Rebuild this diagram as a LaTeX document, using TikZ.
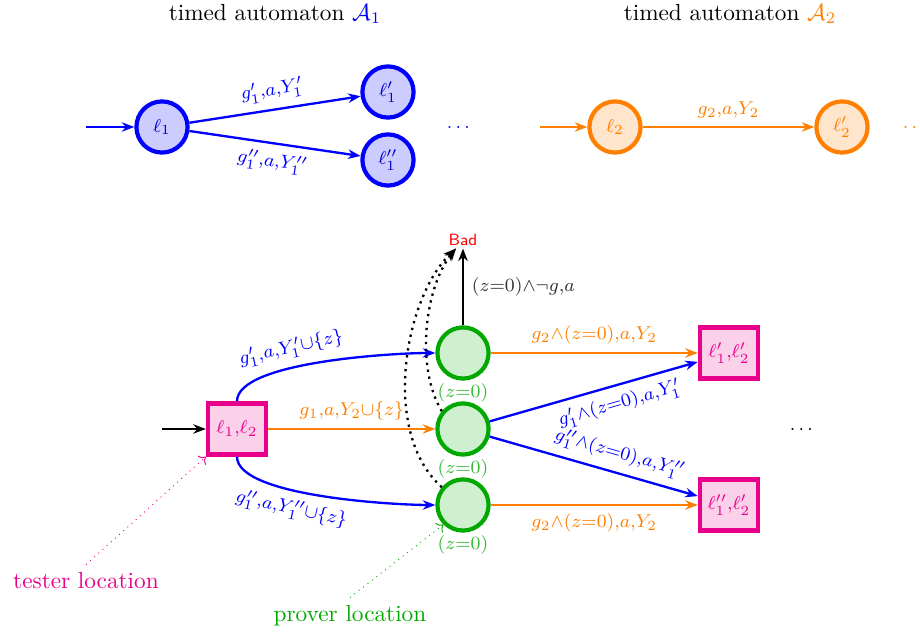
\documentclass[tikz,border=0pt]{standalone}
\usepackage{amsmath, amssymb}
\usepackage{xcolor}
\usetikzlibrary{arrows.meta, positioning}
\definecolor{tcol}{RGB}{232,0,140}
\definecolor{pcol}{RGB}{0,168,0}
\definecolor{pfill}{RGB}{206,240,206}

\begin{document}
\begin{tikzpicture}[
  x=0.43pt, y=0.43pt, font=\footnotesize,
  aloc/.style={circle, draw=blue, line width=1.8pt, fill=blue!20, text=blue!80!black, minimum size=22pt, inner sep=0pt},
  bloc/.style={circle, draw=orange, line width=1.8pt, fill=orange!20, text=orange, minimum size=22pt, inner sep=0pt},
  ploc/.style={circle, draw=pcol, line width=1.8pt, fill=pfill, minimum size=22pt, inner sep=0pt},
  tloc/.style={draw=tcol, line width=1.8pt, fill=tcol!18, text=tcol, minimum width=25pt, minimum height=22pt, inner sep=1pt},
  zlab/.style={text=pcol!80, inner sep=1pt},
  ttl/.style={font=\normalsize},
  arr/.style={-{Stealth[length=1.9mm]}, line width=1pt}
]
\useasboundingbox (0,0) rectangle (920,632);

\node[ttl] (ttl1) at (275,618) {timed automaton $\textcolor{blue}{\mathcal{A}_1}$};
\node[ttl] (ttl2) at (730,618) {timed automaton $\textcolor{orange}{\mathcal{A}_2}$};

\node[aloc] (l1) at (162,505) {$\ell_1$};
\node[aloc] (l1a) at (388,540) {$\ell_1'$};
\node[aloc] (l1b) at (388,472) {$\ell_1''$};
\node[text=blue] (d1) at (460,505) {$\dots$};
\coordinate (i1) at (86,505);
\draw[arr, blue] (i1) -- (l1);
\draw[arr, blue] (l1) -- node[above, sloped] {$g_1'{,}a{,}Y_1'$} (l1a);
\draw[arr, blue] (l1) -- node[below, sloped] {$g_1''{,}a{,}Y_1''$} (l1b);

\node[bloc] (l2) at (615,505) {$\ell_2$};
\node[bloc] (l2a) at (842,505) {$\ell_2'$};
\node[text=orange] (d2) at (916,505) {$\dots$};
\coordinate (i2) at (540,505);
\draw[arr, orange] (i2) -- (l2);
\draw[arr, orange] (l2) -- node[above] {$g_2{,}a{,}Y_2$} (l2a);

\node[tloc] (t0) at (237,203) {$\ell_1{,}\ell_2$};
\node[ploc, label={[zlab]below:$(z{=}0)$}] (p1) at (463,279) {};
\node[ploc, label={[zlab]below:$(z{=}0)$}] (p2) at (463,203) {};
\node[ploc, label={[zlab]below:$(z{=}0)$}] (p3) at (463,127) {};
\node[font=\sffamily\scriptsize, text=red, inner sep=1pt] (bad) at (463,392) {Bad};
\node[tloc] (t1) at (729,279) {$\ell_1'{,}\ell_2'$};
\node[tloc] (t2) at (729,127) {$\ell_1''{,}\ell_2'$};
\node (d3) at (803,203) {$\dots$};
\coordinate (i0) at (162,203);

\draw[arr] (i0) -- (t0);
\draw[arr, blue] (t0.north) to[out=90, in=180, looseness=0.5] node[above, sloped, pos=0.4] {$g_1'{,}a{,}Y_1'{\cup}\{z\}$} (p1.west);
\draw[arr, orange] (t0) -- node[above] {$g_1{,}a{,}Y_2{\cup}\{z\}$} (p2);
\draw[arr, blue] (t0.south) to[out=270, in=180, looseness=0.5] node[below, sloped, pos=0.4] {$g_1''{,}a{,}Y_1''{\cup}\{z\}$} (p3.west);

\draw[arr] (p1) -- node[right, text=black!80] {$(z{=}0){\wedge}\neg g{,}a$} (bad);
\draw[arr, dotted] (p2.140) .. controls (415,265) and (425,345) .. ([xshift=-3pt]bad.south);
\draw[arr, dotted] (p3.140) .. controls (380,200) and (405,335) .. ([xshift=-3pt]bad.south);

\draw[arr, orange] (p1) -- node[above] {$g_2{\wedge}(z{=}0){,}a{,}Y_2$} (t1);
\draw[arr, blue] (p2) -- node[below, sloped, pos=0.6] {$g_1'{\wedge}(z{=}0){,}a{,}Y_1'$} (t1);
\draw[arr, blue] (p2) -- node[above, sloped, pos=0.6] {$g_1''{\wedge}(z{=}0){,}a{,}Y_1''$} (t2);
\draw[arr, orange] (p3) -- node[below] {$g_2{\wedge}(z{=}0){,}a{,}Y_2$} (t2);

\node[ttl, text=tcol] (tlab) at (86,51) {tester location};
\node[ttl, text=pcol] (plab) at (350,16) {prover location};
\draw[->, tcol, dotted] (tlab.north) -- (t0.south west);
\draw[->, pcol, dotted] (plab.north) -- (p3.south west);
\end{tikzpicture}
\end{document}
